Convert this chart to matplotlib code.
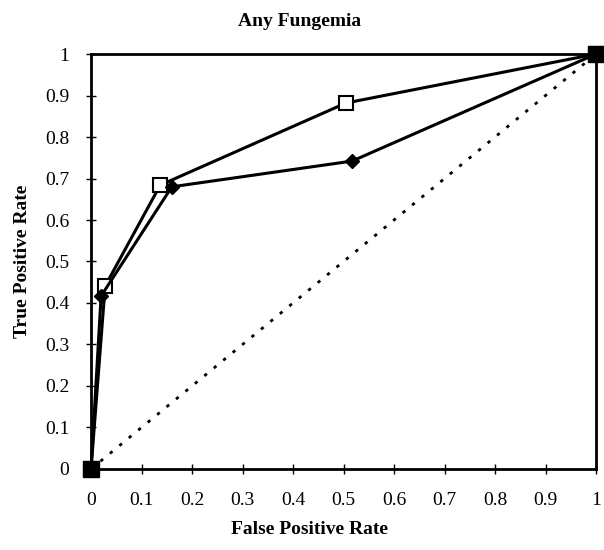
import numpy as np
import matplotlib.pyplot as plt

# ROC points
fpr_diamond = [0.0, 0.02, 0.16, 0.517, 1.0]
tpr_diamond = [0.0, 0.417, 0.68, 0.742, 1.0]
fpr_square = [0.0, 0.028, 0.137, 0.505, 1.0]
tpr_square = [0.0, 0.441, 0.684, 0.882, 1.0]
chance = [0.0, 1.0]
ticks = [0, 0.1, 0.2, 0.3, 0.4, 0.5, 0.6, 0.7, 0.8, 0.9, 1]
tick_labels = ['0', '0.1', '0.2', '0.3', '0.4', '0.5', '0.6', '0.7', '0.8', '0.9', '1']

plt.rcParams['font.family'] = ['Liberation Serif', 'DejaVu Serif']

fig = plt.figure(figsize=(6.04, 5.5), dpi=100)
ax = fig.add_axes([0.1507, 0.1473, 0.8361, 0.7545])

ax.plot(chance, chance, color='black', lw=2, ls=(0, (1.2, 3.2)), zorder=1)
ax.plot(fpr_square, tpr_square, color='black', lw=2.2, marker='s', ms=10,
        mfc='white', mec='black', mew=1.5, zorder=2, clip_on=False)
ax.plot(fpr_diamond, tpr_diamond, color='black', lw=2.2, marker='D', ms=7.5,
        mfc='black', mec='black', zorder=3, clip_on=False)
# end points appear as solid black squares
ends = [0, -1]
ax.plot([fpr_square[i] for i in ends], [tpr_square[i] for i in ends], ls='none',
        marker='s', ms=11, mfc='black', mec='black', zorder=4, clip_on=False)

ax.set_xlim(0, 1)
ax.set_ylim(0, 1)
ax.set_xticks(ticks)
ax.set_xticklabels(tick_labels)
ax.set_yticks(ticks)
ax.set_yticklabels(tick_labels)
ax.tick_params(direction='inout', length=7, width=1, labelsize=14, pad=12)
ax.tick_params(axis='x', pad=13)
for s in ax.spines.values():
    s.set_linewidth(2)

ax.set_title('Any Fungemia', fontsize=14, fontweight='bold', x=0.412, pad=20)
ax.set_xlabel('False Positive Rate', fontsize=14, fontweight='bold')
ax.xaxis.set_label_coords(0.432, -0.125)
ax.set_ylabel('True Positive Rate', fontsize=14, fontweight='bold', labelpad=10)

fig.savefig('out.png', dpi=100)
